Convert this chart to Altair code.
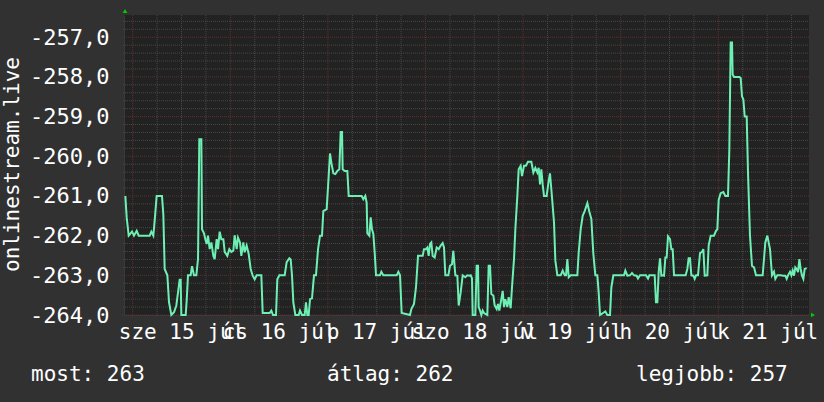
import json
import altair as alt
import pandas as pd

# hours since 2020-07-15 00:00 and the (negated) rank shown on the chart
hours = [
    -1.81, -1.48, -0.99, -0.17, 0.32, 0.98, 1.47, 4.17, 4.58, 5.07, 5.40, 5.89, 7.20, 7.53, 7.86,
    8.52, 8.93, 9.50, 10.16, 10.73, 11.14, 11.55, 11.80, 11.96, 13.03, 13.27, 13.60, 14.25, 14.58,
    15.07, 15.65, 16.06, 16.38, 16.88, 17.04, 17.53, 17.86, 18.19, 18.52, 18.93, 19.34, 19.83,
    20.16, 20.65, 20.98, 21.39, 21.79, 22.29, 22.62, 23.27, 23.76, 24.25, 24.75, 25.07, 25.57,
    25.89, 26.38, 26.71, 27.20, 27.53, 28.02, 28.52, 29.01, 29.50, 29.99, 30.48, 31.63, 31.96,
    33.68, 34.09, 34.50, 35.24, 35.56, 36.06, 37.37, 37.86, 38.52, 38.85, 39.17, 39.50, 39.99,
    40.81, 41.14, 41.63, 42.29, 42.61, 42.94, 43.27, 43.60, 44.09, 44.58, 45.07, 45.57, 46.06,
    46.55, 46.88, 47.70, 48.52, 48.84, 49.34, 49.83, 50.32, 50.81, 51.14, 51.47, 51.63, 52.12,
    52.78, 53.11, 56.30, 56.71, 57.20, 57.53, 57.70, 58.19, 58.52, 58.84, 59.17, 59.50, 59.83,
    60.81, 61.14, 61.63, 64.91, 65.32, 65.73, 66.14, 68.19, 68.52, 69.17, 69.66, 70.16, 70.65,
    71.30, 71.63, 72.12, 72.45, 72.78, 73.11, 73.43, 73.76, 74.25, 74.75, 75.24, 75.73, 76.22,
    76.55, 76.88, 77.61, 78.02, 78.52, 78.84, 79.34, 79.83, 80.16, 80.65, 81.14, 81.79, 82.28,
    82.78, 83.11, 83.43, 83.60, 84.25, 84.58, 84.91, 85.07, 85.40, 85.73, 86.06, 86.39, 87.20,
    87.53, 87.86, 88.19, 88.68, 89.01, 89.50, 89.83, 90.15, 90.65, 90.98, 91.30, 91.63, 92.12,
    92.45, 92.94, 93.27, 93.76, 94.09, 94.58, 94.91, 95.40, 95.73, 96.22, 96.71, 97.20, 98.02,
    98.52, 99.01, 99.50, 99.83, 100.16, 100.48, 100.81, 101.14, 101.79, 102.29, 102.61, 103.11,
    103.60, 103.93, 104.42, 105.24, 105.73, 106.22, 106.55, 106.88, 107.21, 107.70, 109.34,
    109.67, 110.16, 110.65, 111.14, 111.80, 112.29, 112.78, 113.27, 113.76, 114.25, 114.58,
    114.91, 116.22, 116.71, 117.37, 117.70, 118.19, 120.81, 121.14, 121.63, 122.29, 122.78,
    123.27, 123.92, 124.25, 124.75, 126.22, 126.71, 127.04, 128.35, 128.68, 129.01, 129.34,
    129.66, 129.99, 130.32, 130.65, 130.98, 131.30, 131.63, 132.12, 132.45, 132.78, 133.11,
    135.97, 136.38, 136.71, 137.04, 137.37, 137.86, 138.19, 138.52, 139.01, 139.50, 139.99,
    140.32, 140.65, 141.30, 141.63, 142.12, 142.94, 143.43, 143.76, 144.09, 144.58, 145.24,
    145.73, 146.38, 146.71, 147.04, 147.37, 147.53, 147.86, 149.17, 149.50, 149.83, 150.16,
    150.49, 150.98, 151.30, 151.79, 152.28, 152.78, 153.27, 154.91, 155.56, 156.05, 156.38,
    156.71, 157.20, 157.69, 158.02, 158.51, 159.33, 159.99, 160.48, 160.81, 161.14, 161.63,
    161.96, 162.29, 162.61, 162.94, 163.27, 163.60, 163.93, 164.25, 164.58, 164.91, 165.24,
    165.73,
]
values = [
    -261.0, -261.54, -262.0, -261.9, -262.0, -261.88, -262.0, -262.0, -261.9, -262.0, -261.63,
    -261.0, -261.0, -261.46, -262.84, -263.0, -263.68, -264.0, -263.93, -263.76, -263.43,
    -263.11, -263.11, -264.0, -264.0, -263.64, -263.0, -263.0, -262.77, -263.0, -263.0, -262.59,
    -259.57, -259.57, -261.84, -261.94, -262.09, -262.21, -262.0, -262.34, -262.17, -262.51,
    -262.59, -262.09, -262.34, -261.9, -262.09, -262.09, -262.41, -262.51, -262.34, -262.41,
    -262.38, -261.99, -262.34, -262.05, -262.17, -262.51, -262.17, -262.42, -262.25, -262.46,
    -262.84, -263.01, -263.10, -263.0, -263.0, -263.95, -263.95, -263.89, -264.0, -264.0,
    -263.10, -263.0, -263.0, -262.67, -262.57, -262.6, -263.0, -263.68, -264.0, -264.0, -263.89,
    -264.0, -264.0, -263.68, -264.0, -264.0, -263.6, -263.58, -263.0, -263.0, -262.34, -262.0,
    -262.0, -261.38, -261.33, -259.93, -260.16, -260.43, -260.45, -260.37, -260.33, -259.39,
    -259.39, -260.33, -260.37, -260.37, -261.0, -261.0, -261.08, -261.0, -261.17, -261.94,
    -262.0, -261.54, -261.84, -261.96, -262.42, -263.0, -263.0, -262.91, -263.0, -263.0,
    -262.91, -263.0, -263.95, -264.0, -263.85, -263.72, -263.3, -262.51, -262.51, -262.51,
    -262.34, -262.34, -262.30, -262.51, -262.21, -262.17, -262.51, -262.55, -262.30, -262.34,
    -262.25, -262.19, -262.30, -263.0, -263.0, -262.76, -262.72, -262.38, -263.0, -263.01,
    -263.76, -263.43, -263.0, -263.05, -263.0, -263.01, -263.0, -263.08, -264.0, -264.0,
    -262.76, -262.76, -263.80, -263.89, -264.0, -263.89, -263.95, -264.0, -262.76, -262.76,
    -263.47, -263.51, -263.76, -263.85, -263.72, -263.89, -263.6, -263.39, -263.80, -263.6,
    -263.80, -263.55, -263.83, -263.30, -262.59, -261.84, -261.0, -260.33, -260.24, -260.50,
    -260.24, -260.24, -260.14, -260.14, -260.41, -260.29, -260.41, -260.29, -260.71, -260.33,
    -260.71, -261.0, -261.0, -260.62, -260.43, -261.04, -261.67, -262.63, -263.0, -263.0,
    -262.88, -263.0, -263.0, -262.59, -263.05, -263.0, -263.0, -262.42, -261.84, -261.50,
    -261.38, -261.18, -261.40, -261.58, -262.46, -263.0, -263.0, -263.43, -264.0, -263.91,
    -264.0, -264.0, -263.30, -263.0, -263.0, -262.88, -263.01, -263.0, -262.94, -263.0,
    -263.01, -263.08, -263.0, -263.0, -263.08, -263.0, -263.0, -263.68, -263.68, -262.92,
    -262.57, -263.01, -263.0, -263.01, -262.55, -262.55, -262.02, -262.09, -262.34, -262.34,
    -263.0, -263.0, -262.84, -262.57, -262.57, -263.0, -263.01, -263.09, -263.0, -263.0,
    -262.44, -262.41, -262.34, -263.01, -263.0, -262.25, -262.0, -262.0, -261.88, -261.84,
    -261.10, -260.93, -260.90, -261.0, -261.0, -259.83, -257.13, -257.13, -257.94, -258.0,
    -258.0, -258.03, -258.49, -258.57, -259.0, -259.0, -260.41, -262.0, -262.76, -262.80,
    -263.0, -263.0, -262.17, -262.0, -262.17, -262.34, -263.0, -262.91, -263.09, -263.0,
    -263.0, -263.01, -263.01, -263.09, -263.0, -262.91, -263.0, -262.88, -263.01, -262.80,
    -262.84, -262.92, -262.59, -262.84, -263.01, -263.09, -262.84, -262.82,
]

day_labels = ["sze 15 júl", "cs 16 júl", "p 17 júl", "szo 18 júl", "v 19 júl", "h 20 júl", "k 21 júl"]
label_hours = [12, 36, 60, 84, 108, 132, 156]
y_ticks = [-264, -263, -262, -261, -260, -259, -258, -257]
major_x = [0, 24, 48, 72, 96, 120, 144]
minor_x = [h for h in range(6, 166, 6) if h % 24 != 0]
minor_y = [round(-264 + 0.2 * k, 1) for k in range(1, 38) if k % 5 != 0]
legend_texts = ["most: 263", "átlag: 262", "legjobb: 257"]
y_title = "onlinestream.live"

x_domain = [-2.14, 166.3]
y_domain = [-264.0, -256.44]

W, H = 685, 300
FONT = "DejaVu Sans Mono"
TXT = "#ffffff"
LINE = "#6ef0b4"
MINOR = "#474747"
MAJOR = "#5e3030"

xs = alt.Scale(domain=x_domain, nice=False, zero=False)
ys = alt.Scale(domain=y_domain, nice=False, zero=False)

x_label_expr = json.dumps(day_labels, ensure_ascii=False) + "[floor(datum.value / 24)]"
y_label_expr = "'-' + replace(format(abs(datum.value), '.1f'), '.', ',')"

x_axis = alt.Axis(
    values=label_hours,
    labelExpr=x_label_expr,
    ticks=False,
    grid=False,
    domain=True,
    domainColor="#3a3a3a",
    labelColor=TXT,
    labelFont=FONT,
    labelFontSize=21,
    labelPadding=6,
    labelOverlap=False,
    labelFlush=False,
    labelBound=False,
    title=None,
)
y_axis = alt.Axis(
    values=y_ticks,
    labelExpr=y_label_expr,
    ticks=False,
    grid=False,
    domain=True,
    domainColor="#3a3a3a",
    labelColor=TXT,
    labelFont=FONT,
    labelFontSize=22,
    labelPadding=15,
    labelOverlap=False,
    labelFlush=False,
    labelBound=False,
    title=y_title,
    titleFont=FONT,
    titleFontSize=21,
    titleFontWeight="normal",
    titleColor=TXT,
    titleAngle=270,
    titleAlign="center",
    titleBaseline="alphabetic",
    titleX=-106,
    titleY=149,
)

df = pd.DataFrame({"h": hours, "v": values})

minor_v = alt.Chart(pd.DataFrame({"h": minor_x})).mark_rule(
    color=MINOR, strokeDash=[1, 1], strokeWidth=1
).encode(x=alt.X("h:Q", scale=xs, axis=x_axis), y=alt.value(0), y2=alt.value(H + 2))

minor_h = alt.Chart(pd.DataFrame({"v": minor_y})).mark_rule(
    color=MINOR, strokeDash=[1, 1], strokeWidth=1
).encode(y=alt.Y("v:Q", scale=ys, axis=y_axis), x=alt.value(-1), x2=alt.value(W))

major_v = alt.Chart(pd.DataFrame({"h": major_x})).mark_rule(
    color=MAJOR, strokeDash=[1, 1], strokeWidth=1
).encode(x=alt.X("h:Q", scale=xs, axis=x_axis), y=alt.value(0), y2=alt.value(H + 3))

major_h = alt.Chart(pd.DataFrame({"v": y_ticks})).mark_rule(
    color=MAJOR, strokeDash=[1, 1], strokeWidth=1
).encode(y=alt.Y("v:Q", scale=ys, axis=y_axis), x=alt.value(-2), x2=alt.value(W))

line = alt.Chart(df).mark_line(color=LINE, strokeWidth=2, strokeJoin="miter").encode(
    x=alt.X("h:Q", scale=xs, axis=x_axis),
    y=alt.Y("v:Q", scale=ys, axis=y_axis),
)

legend_x = [-93, 203, 512]
legend_layers = []
for t, px in zip(legend_texts, legend_x):
    legend_layers.append(
        alt.Chart(pd.DataFrame({"t": [t]})).mark_text(
            align="left", baseline="alphabetic", font=FONT, fontSize=21, color=TXT
        ).encode(x=alt.value(px), y=alt.value(366), text="t:N")
    )

arrow_up = alt.Chart(pd.DataFrame({"a": [0]})).mark_point(
    shape="triangle-up", filled=True, size=22, color="#00cc00", opacity=1
).encode(x=alt.value(1), y=alt.value(-4))

arrow_right = alt.Chart(pd.DataFrame({"a": [0]})).mark_point(
    shape="triangle-right", filled=True, size=22, color="#00cc00", opacity=1
).encode(x=alt.value(W + 4), y=alt.value(H))

chart = alt.layer(
    minor_v, minor_h, major_v, major_h, line, *legend_layers, arrow_up, arrow_right
).properties(
    width=W,
    height=H,
    padding={"left": 124, "top": 15, "right": 15, "bottom": 87},
    autosize=alt.AutoSizeParams(type="none"),
).configure(background="#313131").configure_view(fill="#222222", strokeWidth=0)

chart.save("out.html", embed_options={"renderer": "svg", "actions": False})
